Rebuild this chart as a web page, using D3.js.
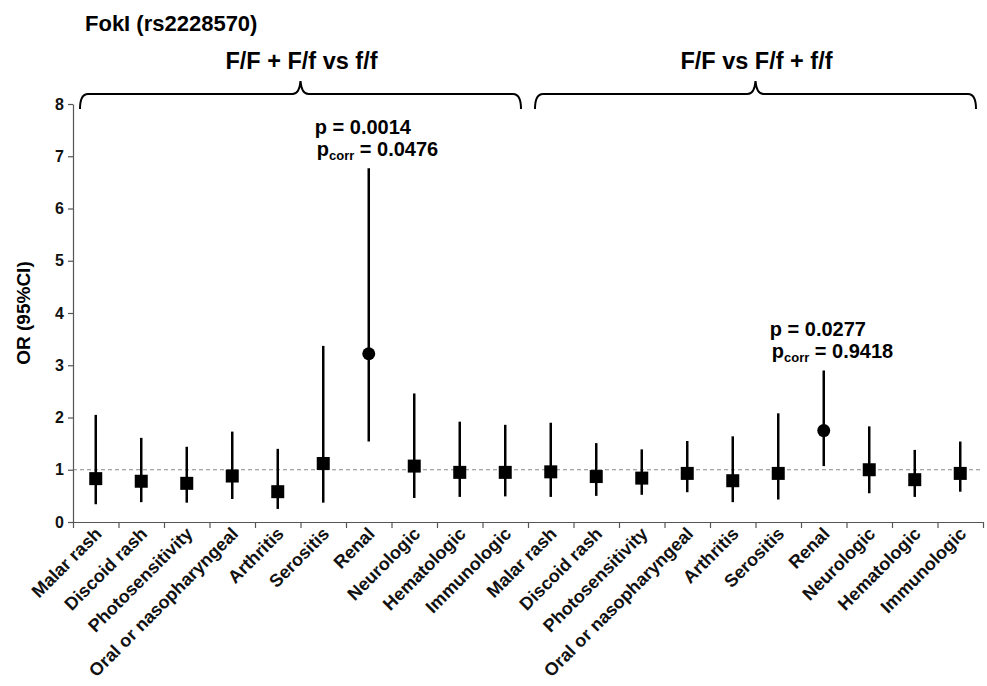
<!DOCTYPE html>
<html>
<head>
<meta charset="utf-8">
<script src="https://cdn.jsdelivr.net/npm/d3@7"></script>
<style>
  html, body { margin: 0; padding: 0; background: #fff; }
  svg { display: block; font-family: "Liberation Sans", Arial, Helvetica, sans-serif; }
</style>
</head>
<body>
<svg id="chart" width="987" height="686"></svg>
<script>
// ---- data ----
const title = "FokI (rs2228570)";
const groupTitles = ["F/F + F/f vs f/f", "F/F vs F/f + f/f"];
const categories = ["Malar rash", "Discoid rash", "Photosensitivity", "Oral or nasopharyngeal",
  "Arthritis", "Serositis", "Renal", "Neurologic", "Hematologic", "Immunologic"];
// Group 1: F/F + F/f vs f/f
const or1    = [0.83, 0.78, 0.74, 0.88, 0.58, 1.12, 3.22, 1.07, 0.95, 0.95];
const lower1 = [0.34, 0.38, 0.37, 0.44, 0.25, 0.37, 1.54, 0.46, 0.48, 0.49];
const upper1 = [2.05, 1.61, 1.44, 1.73, 1.40, 3.37, 6.77, 2.46, 1.92, 1.86];
// Group 2: F/F vs F/f + f/f
const or2    = [0.96, 0.87, 0.84, 0.93, 0.79, 0.93, 1.75, 1.00, 0.81, 0.93];
const lower2 = [0.48, 0.50, 0.52, 0.57, 0.38, 0.43, 1.07, 0.55, 0.48, 0.58];
const upper2 = [1.90, 1.51, 1.39, 1.55, 1.64, 2.08, 2.90, 1.83, 1.38, 1.54];
const significant = ["Renal"];
const annotations = [
  { group: 0, cat: "Renal", p: "0.0014", pcorr: "0.0476" },
  { group: 1, cat: "Renal", p: "0.0277", pcorr: "0.9418" }
];
const yTicks = [0, 1, 2, 3, 4, 5, 6, 7, 8];
const yLabel = "OR (95%CI)";

// ---- build rows ----
const rows = [];
[[or1, lower1, upper1], [or2, lower2, upper2]].forEach(([o, l, u], g) => {
  categories.forEach((c, i) => rows.push({ key: g + "-" + i, group: g, cat: c, or: o[i], lo: l[i], hi: u[i] }));
});

const svg = d3.select("#chart");
const x = d3.scaleBand().domain(rows.map(d => d.key)).range([73, 983]).paddingInner(0).paddingOuter(0);
const xb = d3.scaleLinear().domain([0, rows.length]).range([73, 983]);
const y = d3.scaleLinear().domain([0, 8]).range([522, 104]);

// title
svg.append("text").attr("x", 85).attr("y", 31)
  .attr("font-size", 22).attr("font-weight", "bold").text(title);

// reference line at 1
svg.append("line")
  .attr("x1", 73).attr("x2", 983).attr("y1", y(1)).attr("y2", y(1))
  .attr("stroke", "#888").attr("stroke-width", 1).attr("stroke-dasharray", "4,3");

// y axis
const yAxis = svg.append("g").attr("transform", "translate(73,0)")
  .call(d3.axisLeft(y).tickValues(yTicks).tickFormat(d3.format("d")).tickSize(5).tickSizeOuter(0));
yAxis.select(".domain").attr("stroke", "#555").attr("stroke-width", 1.2);
yAxis.selectAll(".tick line").attr("stroke", "#555").attr("stroke-width", 1.2);
yAxis.selectAll(".tick text").attr("font-size", 16).attr("font-weight", "bold")
  .attr("fill", "#111").attr("x", -9).attr("font-family", "'Liberation Sans', Arial, sans-serif");

// x axis (ticks at category boundaries)
const xAxis = svg.append("g").attr("transform", "translate(0,522)")
  .call(d3.axisBottom(xb).tickValues(d3.range(0, rows.length + 1)).tickFormat("").tickSize(6).tickSizeOuter(0));
xAxis.select(".domain").attr("stroke", "#555").attr("stroke-width", 1.2);
xAxis.selectAll(".tick line").attr("stroke", "#555").attr("stroke-width", 1.2);

// x labels
svg.append("g").selectAll("text").data(rows).join("text")
  .attr("transform", d => `translate(${x(d.key) + x.bandwidth() / 2 + 7},535) rotate(-45)`)
  .attr("text-anchor", "end").attr("font-size", 18).attr("font-weight", "bold")
  .attr("fill", "#111").text(d => d.cat);

// y label
svg.append("text")
  .attr("transform", `translate(30,${(522 + 104) / 2}) rotate(-90)`)
  .attr("text-anchor", "middle").attr("font-size", 19).attr("font-weight", "bold")
  .text(yLabel);

// error bars
const cx = d => x(d.key) + x.bandwidth() / 2;
svg.append("g").selectAll("line").data(rows).join("line")
  .attr("x1", cx).attr("x2", cx).attr("y1", d => y(d.lo)).attr("y2", d => y(d.hi))
  .attr("stroke", "#000").attr("stroke-width", 2.5);

// markers
const sq = 13;
svg.append("g").selectAll("rect").data(rows.filter(d => !significant.includes(d.cat))).join("rect")
  .attr("x", d => cx(d) - sq / 2).attr("y", d => y(d.or) - sq / 2)
  .attr("width", sq).attr("height", sq).attr("fill", "#000");
svg.append("g").selectAll("circle").data(rows.filter(d => significant.includes(d.cat))).join("circle")
  .attr("cx", cx).attr("cy", d => y(d.or)).attr("r", 6.5).attr("fill", "#000");

// annotations
annotations.forEach(a => {
  const row = rows.find(r => r.group === a.group && r.cat === a.cat);
  const ax = cx(row) - 54;
  const top = y(row.hi);
  svg.append("text").attr("x", ax).attr("y", top - 34)
    .attr("font-size", 20).attr("font-weight", "bold").text("p = " + a.p);
  const t2 = svg.append("text").attr("x", ax + 2).attr("y", top - 12)
    .attr("font-size", 20).attr("font-weight", "bold");
  t2.append("tspan").text("p");
  t2.append("tspan").attr("font-size", 13).attr("dy", 4).text("corr");
  t2.append("tspan").attr("dy", -4).text(" = " + a.pcorr);
});

// group braces
const groups = [0, 1].map(g => {
  const keys = rows.filter(r => r.group === g).map(r => r.key);
  return { g, x0: x(keys[0]) + 7, x1: x(keys[keys.length - 1]) + x.bandwidth() - 7 };
});
const braceY = 94, braceDrop = 15, tipY = 81;
groups.forEach(b => {
  const mid = (b.x0 + b.x1) / 2;
  const p = d3.path();
  p.moveTo(b.x0, braceY + braceDrop);
  p.quadraticCurveTo(b.x0, braceY, b.x0 + 8, braceY);
  p.lineTo(mid - 8, braceY);
  p.quadraticCurveTo(mid - 1, braceY, mid, tipY);
  p.quadraticCurveTo(mid + 1, braceY, mid + 8, braceY);
  p.lineTo(b.x1 - 8, braceY);
  p.quadraticCurveTo(b.x1, braceY, b.x1, braceY + braceDrop);
  svg.append("path").attr("d", p.toString()).attr("fill", "none")
    .attr("stroke", "#000").attr("stroke-width", 2);
  svg.append("text").attr("x", mid + 1).attr("y", 69).attr("text-anchor", "middle")
    .attr("font-size", 23.5).attr("font-weight", "bold").text(groupTitles[b.g]);
});
</script>
</body>
</html>
